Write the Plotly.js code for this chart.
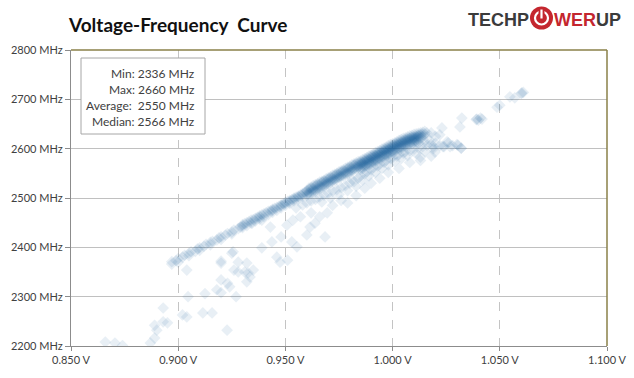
<!DOCTYPE html>
<html>
<head>
<meta charset="utf-8">
<script src="https://cdn.plot.ly/plotly-3.0.1.min.js"></script>
<style>html,body{margin:0;padding:0;background:#fff;}#chart{width:634px;height:378px;}</style>
</head>
<body>
<div id="chart"></div>
<script>
// ---- Data ----
// Main band: one voltage per row, several frequency samples per voltage
const bandV = [
  0.897,0.899,0.900,0.902,0.903,0.905,0.906,0.908,0.909,0.910,0.912,0.913,0.915,0.916,0.918,0.919,
  0.920,0.922,0.923,0.925,0.926,0.928,0.929,
  0.930,0.931,0.932,0.933,0.934,0.935,0.936,0.937,0.938,0.939,0.940,0.941,0.942,0.943,0.944,0.945,
  0.946,0.947,0.948,0.949,0.950,0.951,0.952,0.953,0.954,0.955,0.956,0.957,0.958,0.959,
  0.960,0.961,0.962,0.963,0.964,0.965,0.966,0.967,0.968,0.969,0.970,0.971,0.972,0.973,0.974,0.975,
  0.976,0.977,0.978,0.979,0.980,0.981,0.982,0.983,0.984,
  0.985,0.986,0.987,0.988,0.989,0.990,0.991,0.992,0.993,0.994,0.995,0.996,0.997,0.998,0.999,
  1.000,1.001,1.002,1.003,1.004,1.005,1.006,1.007,1.008,1.009,1.010,1.011,1.012,1.013,1.014,1.015,1.016
];
const bandF = [
  [2366,2371],[2373],[2377,2370],[2380],[2384],[2388,2383],[2391],[2392],[2397],[2399,2394],[2402],[2406],[2410,2405],[2412],[2415],[2419],
  [2421,2416],[2425],[2428],[2431,2427],[2435],[2438],[2441],
  [2446,2440,2443],[2448],[2450,2444],[2452],[2455,2449],[2456],[2459,2453],[2461],[2464,2457,2461],[2466],[2468,2462],[2470],[2473,2466],[2474],[2477,2471,2475],[2479],
  [2481,2475],[2483],[2486,2480,2484],[2488],[2491,2485,2489],[2493],[2495,2489,2492],[2497],[2500,2494,2498],[2502],[2504,2498,2502],[2506],[2509,2503,2507],[2511],
  [2515,2509,2513,2506],[2517,2511,2520,2508],[2519,2514,2522,2510],[2520,2516,2525,2513],[2524,2518,2527,2514],[2526,2520,2529,2517],
  [2527,2523,2532,2519],[2531,2525,2534,2521],[2533,2528,2536,2524],[2534,2530,2539,2527],[2538,2532,2541,2529],[2540,2535,2543,2531],
  [2541,2537,2546,2534],[2545,2539,2548,2536],[2547,2542,2550,2538],[2548,2544,2553,2541],
  [2552,2546,2555,2543],[2554,2549,2557,2545],[2555,2551,2560,2548],[2559,2553,2562,2550],[2561,2556,2564,2552],[2562,2558,2567,2555],
  [2566,2560,2569,2557],[2568,2563,2571,2559],[2569,2565,2574,2562],
  [2571,2566,2575,2562,2569,2558],[2573,2568,2578,2564,2571,2560],[2576,2570,2580,2566,2574,2563],[2578,2573,2582,2569,2576,2565],
  [2580,2575,2585,2571,2578,2567],[2583,2577,2587,2573,2581,2569],[2585,2580,2589,2576,2583,2572],[2587,2582,2592,2578,2585,2574],
  [2590,2584,2594,2580,2588,2576],[2592,2587,2596,2583,2590,2579],[2594,2589,2599,2585,2592,2581],[2597,2591,2601,2587,2595,2583],
  [2599,2594,2603,2590,2597,2586],[2601,2596,2606,2592,2599,2588],[2603,2598,2608,2594,2601,2590],
  [2606,2600,2610,2596,2604,2592],[2608,2603,2612,2599,2606,2595],[2610,2605,2614,2601,2608,2597],[2612,2607,2617,2603,2610,2599],
  [2614,2609,2619,2605,2612,2601],[2616,2611,2621,2607,2614,2603],[2618,2613,2622,2609,2616,2605],[2620,2615,2624,2611,2618,2607],
  [2621,2617,2626,2613,2620,2609],[2623,2618,2627,2614,2621,2610],[2624,2620,2629,2616,2622,2612],[2625,2621,2630,2617,2623,2613],
  [2627,2622,2631,2618,2625],[2628,2623,2632,2620],[2629,2624,2633],[2630,2635],[2632]
];
// Lighter secondary band just below the main one  [voltage, MHz]
const lowerPoints = [
  [0.955,2480],[0.958,2486],[0.960,2490],[0.962,2494],[0.964,2497],[0.966,2502],[0.967,2492],[0.968,2506],[0.970,2510],[0.971,2500],
  [0.972,2514],[0.974,2517],[0.975,2507],[0.976,2521],[0.978,2525],[0.979,2515],[0.980,2530],[0.981,2538],[0.982,2533],[0.983,2524],
  [0.984,2540],[0.985,2545],[0.986,2536],[0.987,2549],[0.988,2553],[0.989,2545],[0.990,2557],[0.991,2562],[0.992,2552],[0.993,2565],
  [0.994,2568],[0.995,2560],[0.996,2572],[0.997,2576],[0.998,2567],[0.999,2580],[1.000,2582],[1.001,2574],[1.002,2585],[1.003,2588],
  [1.004,2580],[1.005,2591],[1.006,2594],[1.007,2586],[1.008,2596],[1.010,2599],[1.011,2590],[1.012,2602],[1.014,2604],[1.015,2595],
  [1.016,2607],[1.018,2609],[1.019,2600],[1.020,2611],[1.022,2606],[1.024,2604],[1.026,2612],[1.028,2606],[1.030,2608],[1.032,2601],
  [1.012,2611],[1.015,2615],[1.017,2618],[1.013,2583]
];
// Scattered samples below the band
const midScatterPoints = [
  [0.9256,2391],[0.920,2372],[0.926,2354],[0.9326,2348],[0.935,2354],[0.9335,2340],[0.939,2399],[0.9437,2411],[0.948,2421],[0.946,2380],
  [0.9475,2370],[0.951,2374],[0.953,2411],[0.9554,2401],[0.960,2425],[0.9615,2441],[0.9638,2449],[0.9535,2455],[0.957,2462],[0.962,2470],
  [0.966,2462],[0.9685,2421],[0.9695,2470],[0.943,2441],[0.939,2455],[0.9345,2449],[0.9507,2445],[0.972,2485],[0.976,2495],[0.979,2490],
  [0.983,2505],[0.987,2520],[0.990,2530],[0.994,2540],[0.998,2552],[1.003,2560],[1.008,2572],[1.013,2576],[1.018,2585]
];
// Far outliers at low voltage
const lowTailPoints = [
  [0.866,2208],[0.8705,2206],[0.874,2201],[0.887,2206],[0.889,2216],[0.890,2232],[0.889,2242],[0.893,2249],[0.895,2247],[0.893,2277],
  [0.902,2263],[0.904,2259],[0.9115,2267],[0.9158,2267],[0.9228,2232],[0.9046,2300],[0.9125,2306],[0.918,2314],[0.920,2308],[0.924,2320],
  [0.927,2300],[0.920,2334],[0.923,2327],[0.904,2354],[0.920,2368],[0.925,2388],[0.928,2370],[0.928,2350],[0.931,2350],[0.932,2330],[0.932,2368]
];
// High-voltage tail
const upperPoints = [
  [1.018,2632],[1.023,2642],[1.0314,2644],[1.0323,2662],[1.0393,2660],[1.0417,2660],[1.040,2658],[1.041,2662],[1.039,2659],[1.0487,2684],
  [1.050,2688],[1.0547,2705],[1.057,2703],[1.0603,2713],[1.060,2712],[1.061,2714],[1.0254,2614],[1.0268,2604],[1.0305,2607],[1.032,2601],
  [1.0235,2604],[1.0198,2593],[1.019,2604],[1.020,2625],[1.022,2628]
];
// Stats box
const statLabels = ["Min:", "Max:", "Average: ", "Median:"];
const statValues = [2336, 2660, 2550, 2566];
// Axis ticks
const xTickVals = [0.85, 0.90, 0.95, 1.00, 1.05, 1.10];
const xTickText = ["0.850 V", "0.900 V", "0.950 V", "1.000 V", "1.050 V", "1.100 V"];
const yTickVals = [2200, 2300, 2400, 2500, 2600, 2700, 2800];
const yTickText = ["2200 MHz", "2300 MHz", "2400 MHz", "2500 MHz", "2600 MHz", "2700 MHz", "2800 MHz"];

// ---- Build trace ----
const xs = [], ys = [];
bandV.forEach((v, i) => bandF[i].forEach(f => { xs.push(v); ys.push(f); }));
[lowerPoints, midScatterPoints, lowTailPoints, upperPoints].forEach(g => g.forEach(p => { xs.push(p[0]); ys.push(p[1]); }));

const trace = {
  type: 'scatter', mode: 'markers', x: xs, y: ys, hoverinfo: 'skip',
  marker: { symbol: 'diamond', size: 9, color: 'rgb(30,94,155)', opacity: 0.1, line: { width: 0 } }
};

// plot area in pixels: x 71..607, y 50..346
const L = 71, R = 607, T = 50, B = 346;
const px = x => (x - L) / (R - L);
const py = y => (B - y) / (B - T);

const annotations = [];
statLabels.forEach((lab, i) => {
  const rowsY = [73, 89, 105.5, 122];
  annotations.push({
    xref: 'paper', yref: 'paper', x: px(197), y: py(rowsY[i]), xanchor: 'right', yanchor: 'middle',
    text: lab + ' ' + statValues[i] + ' MHz', showarrow: false,
    font: { family: 'Lato, "Open Sans", sans-serif', size: 12, color: '#404040' }
  });
});
annotations.push({
  xref: 'paper', yref: 'paper', x: px(530), y: py(20), xanchor: 'right', yanchor: 'middle',
  text: 'TECHP', showarrow: false, borderpad: 0,
  font: { family: '"Liberation Sans", Arial, sans-serif', size: 18, weight: 'bold', color: '#3b3b3b' }
});
annotations.push({
  xref: 'paper', yref: 'paper', x: px(553), y: py(20), xanchor: 'left', yanchor: 'middle',
  text: 'WER<span style="color:#3b3b3b">UP</span>', showarrow: false, borderpad: 0,
  font: { family: '"Liberation Sans", Arial, sans-serif', size: 18, weight: 'bold', color: '#c4262e' }
});

const cx = px(541.5), cy = py(18);
const shapes = [
  // stats box
  { type: 'rect', xref: 'paper', yref: 'paper', x0: px(81), x1: px(205), y0: py(134), y1: py(58),
    line: { color: '#a6a6a6', width: 1 }, fillcolor: '#ffffff', layer: 'above' },
  // top and right border
  { type: 'line', xref: 'paper', yref: 'paper', x0: 0, x1: 1, y0: 1, y1: 1, line: { color: '#8a8048', width: 1.5 } },
  { type: 'line', xref: 'paper', yref: 'paper', x0: 1, x1: 1, y0: 0, y1: 1, line: { color: '#8a8048', width: 1.5 } },
  // logo power button
  { type: 'circle', xref: 'paper', yref: 'paper', xsizemode: 'pixel', ysizemode: 'pixel', xanchor: cx, yanchor: cy,
    x0: -11.5, x1: 11.5, y0: -11.5, y1: 11.5, fillcolor: '#c4262e', line: { width: 0 } },
  { type: 'circle', xref: 'paper', yref: 'paper', xsizemode: 'pixel', ysizemode: 'pixel', xanchor: cx, yanchor: cy,
    x0: -6.5, x1: 6.5, y0: -6.5, y1: 6.5, line: { color: '#ffffff', width: 2.2 } },
  { type: 'rect', xref: 'paper', yref: 'paper', xsizemode: 'pixel', ysizemode: 'pixel', xanchor: cx, yanchor: cy,
    x0: -3, x1: 3, y0: 1, y1: 9, fillcolor: '#c4262e', line: { width: 0 } },
  { type: 'line', xref: 'paper', yref: 'paper', xsizemode: 'pixel', ysizemode: 'pixel', xanchor: cx, yanchor: cy,
    x0: 0, x1: 0, y0: -0.5, y1: 8.5, line: { color: '#ffffff', width: 2.2 } }
];

const layout = {
  width: 634, height: 378,
  margin: { l: 71, r: 27, t: 50, b: 32, pad: 0 },
  paper_bgcolor: '#ffffff', plot_bgcolor: '#ffffff',
  font: { family: 'Lato, "Open Sans", sans-serif', size: 11, color: '#404040' },
  showlegend: false,
  title: { text: 'Voltage-Frequency  Curve', xref: 'container', yref: 'container',
    x: 69 / 634, xanchor: 'left', y: 1 - 25 / 378, yanchor: 'middle',
    font: { family: 'Lato, "Open Sans", sans-serif', size: 19, weight: 'bold', color: '#111111' } },
  xaxis: { range: [0.85, 1.1], tickvals: xTickVals, ticktext: xTickText, showgrid: true,
    gridcolor: '#c4c4c4', griddash: 'dash', gridwidth: 1, showline: true, linecolor: '#8c8c8c', linewidth: 1,
    ticks: 'outside', ticklen: 4, tickcolor: '#8c8c8c', zeroline: false, fixedrange: true,
    tickfont: { size: 11, color: '#404040' } },
  yaxis: { range: [2200, 2800], tickvals: yTickVals, ticktext: yTickText, showgrid: true,
    gridcolor: '#c0c0c0', gridwidth: 1, showline: true, linecolor: '#8c8c8c', linewidth: 1,
    ticks: 'outside', ticklen: 5, tickcolor: '#8c8c8c', zeroline: false, fixedrange: true,
    tickfont: { size: 11, color: '#404040' } },
  shapes: shapes,
  annotations: annotations
};

Plotly.newPlot('chart', [trace], layout, { staticPlot: true, displayModeBar: false });
</script>
</body>
</html>
